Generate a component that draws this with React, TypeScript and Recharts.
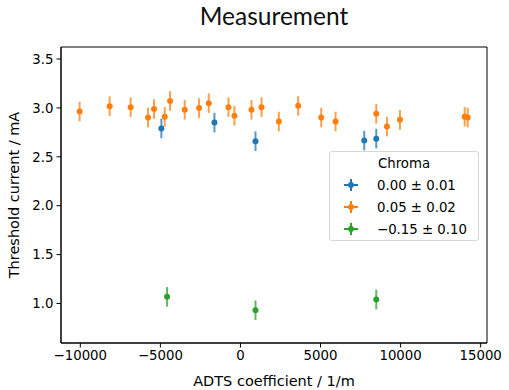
import React from 'react'
import { ScatterChart, Scatter, XAxis, YAxis, ErrorBar, Label, ReferenceArea } from 'recharts'

// chroma 0.00 ± 0.01
const blueX = [-4938, -1625, 938, 7729, 8479]
const blueY = [2.79, 2.85, 2.66, 2.666, 2.686]
const blueErr = [0.1, 0.1, 0.1, 0.1, 0.1]

// chroma 0.05 ± 0.02
const orangeX = [-10044, -8167, -6856, -5771, -5394, -4729, -4396, -3481, -2583, -1979, -750, -375, 688, 1313, 2396, 3604, 5042, 5938, 8479, 9146, 9958, 14000, 14188]
const orangeY = [2.963, 3.018, 3.008, 2.902, 2.988, 2.909, 3.07, 2.981, 2.998, 3.049, 3.008, 2.919, 2.981, 3.008, 2.861, 3.021, 2.902, 2.861, 2.94, 2.809, 2.878, 2.909, 2.902]
const orangeErr = [0.1, 0.1, 0.1, 0.1, 0.1, 0.1, 0.1, 0.1, 0.1, 0.1, 0.1, 0.1, 0.1, 0.1, 0.1, 0.1, 0.1, 0.1, 0.1, 0.1, 0.1, 0.1, 0.1]

// chroma -0.15 ± 0.10
const greenX = [-4583, 938, 8479]
const greenY = [1.068, 0.931, 1.041]
const greenErr = [0.1, 0.1, 0.1]

const xTicks = [-10000, -5000, 0, 5000, 10000, 15000]
const yTicks = [1.0, 1.5, 2.0, 2.5, 3.0, 3.5]
const legendLabels = ['0.00 ± 0.01', '0.05 ± 0.02', '\u22120.15 ± 0.10']

const xDomain = [-11206, 15394]
const yDomain = [0.596, 3.623]

const colors = ['#1f77b4', '#ff7f0e', '#2ca02c']
const font = '"DejaVu Sans", sans-serif'

const toRows = (xs: number[], ys: number[], es: number[]) =>
  xs.map((x, i) => ({ x, y: ys[i], err: es[i] }))

const series = [
  toRows(blueX, blueY, blueErr),
  toRows(orangeX, orangeY, orangeErr),
  toRows(greenX, greenY, greenErr),
]

const fmtX = (v: number) => String(v).replace('-', '\u2212')
const fmtY = (v: number) => v.toFixed(1)

const dot = (color: string) => (p: any) => <circle cx={p.cx} cy={p.cy} r={3} fill={color} />

function LegendMarker({ color }: { color: string }) {
  return (
    <svg width={20} height={14} style={{ display: 'block' }}>
      <line x1={3} x2={17} y1={7} y2={7} stroke={color} strokeWidth={2} />
      <line x1={10} x2={10} y1={1} y2={13} stroke={color} strokeWidth={2} />
      <circle cx={10} cy={7} r={3} fill={color} />
    </svg>
  )
}

export default function App() {
  const tickStyle = { fill: '#000', fontSize: 13.3, fontFamily: font }
  return (
    <div style={{ position: 'absolute', left: 0, top: 0, width: 509, height: 390, background: '#fff', fontFamily: font }}>
      <div style={{ position: 'absolute', left: 61, width: 426, top: 1, textAlign: 'center', fontSize: 24.5, fontFamily: 'Lato, sans-serif', color: '#111' }}>
        Measurement
      </div>
      <ScatterChart width={509} height={390} margin={{ top: 47, right: 22, bottom: 0, left: 0 }}>
        <XAxis
          type="number"
          dataKey="x"
          domain={xDomain}
          ticks={xTicks}
          tickFormatter={fmtX}
          allowDataOverflow
          height={47}
          tickSize={4.5}
          tickMargin={3.5}
          tick={tickStyle}
          axisLine={{ stroke: '#000', strokeWidth: 1 }}
          tickLine={{ stroke: '#000', strokeWidth: 1 }}
        >
          <Label value="ADTS coefficient / 1/m" position="insideBottom" offset={4} style={{ fontSize: 14.5, fontFamily: font, fill: '#000' }} />
        </XAxis>
        <YAxis
          type="number"
          dataKey="y"
          domain={yDomain}
          ticks={yTicks}
          tickFormatter={fmtY}
          allowDataOverflow
          width={61}
          tickSize={4.5}
          tickMargin={3}
          tick={tickStyle}
          axisLine={{ stroke: '#000', strokeWidth: 1 }}
          tickLine={{ stroke: '#000', strokeWidth: 1 }}
        >
          <Label value="Threshold current / mA" angle={-90} position="insideLeft" offset={14} style={{ textAnchor: 'middle', fontSize: 14.5, fontFamily: font, fill: '#000' }} />
        </YAxis>
        <ReferenceArea x1={xDomain[0]} x2={xDomain[1]} y1={yDomain[0]} y2={yDomain[1]} fill="none" fillOpacity={0} stroke="#000" strokeOpacity={1} strokeWidth={1} ifOverflow="visible" />
        {series.map((rows, i) => (
          <Scatter key={i} data={rows} fill={colors[i]} shape={dot(colors[i])} isAnimationActive={false}>
            <ErrorBar dataKey="err" direction="y" width={0} stroke={colors[i]} strokeWidth={2} strokeOpacity={0.75} isAnimationActive={false} />
          </Scatter>
        ))}
      </ScatterChart>
      <div
        style={{
          position: 'absolute', left: 329, top: 151, width: 150, height: 90, boxSizing: 'border-box',
          border: '1px solid #d6d6d6', borderRadius: 3, background: 'rgba(255,255,255,0.8)', fontSize: 13.3,
        }}
      >
        <div style={{ textAlign: 'center', marginTop: 2, height: 20, lineHeight: '20px' }}>Chroma</div>
        {legendLabels.map((lab, i) => (
          <div key={i} style={{ display: 'flex', alignItems: 'center', height: 22 }}>
            <div style={{ marginLeft: 11, marginRight: 16 }}><LegendMarker color={colors[i]} /></div>
            <span>{lab}</span>
          </div>
        ))}
      </div>
    </div>
  )
}
